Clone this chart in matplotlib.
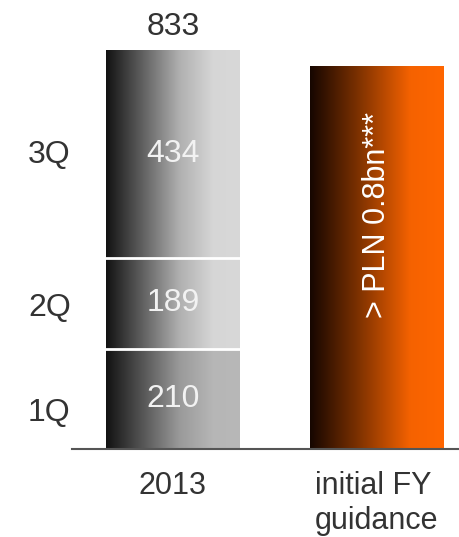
import numpy as np
import matplotlib.pyplot as plt
from matplotlib.colors import LinearSegmentedColormap

plt.rcParams['font.family'] = ['Liberation Sans', 'DejaVu Sans']

quarters = ['1Q', '2Q', '3Q']
q_values = [210, 189, 434]
guidance = 800
guidance_text = '> PLN 0.8bn***'
xlabels = ['2013', 'initial FY\nguidance']
# label heights for the quarter names (in data units)
q_label_pos = [75, 295, 615]

total = sum(q_values)

fig = plt.figure(figsize=(4.59, 5.37), dpi=100)
ax = fig.add_axes([72 / 459, 1 - 449 / 537, 1 - 72 / 459, 449 / 537])

gray_cm = LinearSegmentedColormap.from_list('g', [(0, '#121212'), (0.55, '#b0b0b0'), (0.8, '#d6d6d6'), (1, '#d8d8d8')])
gray_cm1 = LinearSegmentedColormap.from_list('g1', [(0, '#121212'), (0.55, '#9a9a9a'), (0.8, '#b6b6b6'), (1, '#b8b8b8')])
orange_cm = LinearSegmentedColormap.from_list('o', [(0, '#160600'), (0.35, '#7a3000'), (0.75, '#f56200'), (1, '#ff6600')])

grad = np.linspace(0, 1, 256).reshape(1, -1)
width = 0.658

bottom = 0
for i, v in enumerate(q_values):
    b = ax.bar(0, v, width, bottom=bottom, color='none', edgecolor='none')[0]
    cm = gray_cm1 if i == 0 else gray_cm
    ax.imshow(grad, cmap=cm, aspect='auto',
              extent=[b.get_x(), b.get_x() + b.get_width(), bottom, bottom + v], zorder=1)
    if i > 0:
        ax.plot([b.get_x(), b.get_x() + b.get_width()], [bottom, bottom], color='white', lw=2, zorder=3)
    ax.text(0, bottom + v / 2, str(v), ha='center', va='center', color='#f2f2f2', fontsize=23, zorder=4)
    bottom += v

ax.text(0, total + 50, str(total), ha='center', va='center', color='#333333', fontsize=23)

b = ax.bar(1, guidance, width, color='none', edgecolor='none')[0]
ax.imshow(grad, cmap=orange_cm, aspect='auto',
          extent=[b.get_x(), b.get_x() + b.get_width(), 0, guidance], zorder=1)
ax.text(1, 490, guidance_text, rotation=90, ha='center', va='center', color='white', fontsize=22, zorder=4)

for q, y in zip(quarters, q_label_pos):
    ax.text(-0.114, y, q, transform=ax.get_yaxis_transform(), ha='left', va='center',
            color='#333333', fontsize=23)

ax.set_xlim(-0.496, 1.405)
ax.set_ylim(0, 939)
ax.set_xticks([0, 1])
ax.set_xticklabels(xlabels, fontsize=22, color='#333333', multialignment='left', va='top',
                   linespacing=1.2)
ax.tick_params(axis='x', length=0, pad=16)
ax.set_yticks([])
for s in ['top', 'left', 'right']:
    ax.spines[s].set_visible(False)
ax.spines['bottom'].set_color('#555555')
ax.spines['bottom'].set_linewidth(1.5)
ax.patch.set_alpha(0)

fig.savefig('out.png', dpi=100)
